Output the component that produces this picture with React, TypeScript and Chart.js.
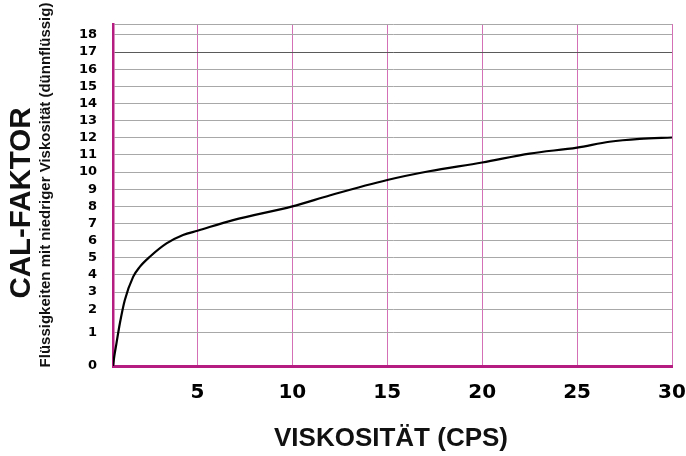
import React, { useEffect, useRef } from 'react';
import { Chart, LinearScale, registerables } from 'chart.js';

// ---- data ----
const viscosity = [0.55, 0.62, 0.73, 0.91, 1.17, 1.61, 1.96, 2.49, 3.37, 4.24, 5, 6.88, 10, 12, 15, 17.2, 20, 22.5, 25, 26.7, 28.3, 30];
const calFactor = [0, 0.3, 0.67, 1.39, 2.53, 3.89, 4.47, 5.06, 5.84, 6.33, 6.58, 7.2, 8.0, 8.65, 9.54, 10.05, 10.56, 11.08, 11.43, 11.77, 11.94, 12.02];
const yTicks = [0, 1, 2, 3, 4, 5, 6, 7, 8, 9, 10, 11, 12, 13, 14, 15, 16, 17, 18];
const xTicks = [5, 10, 15, 20, 25, 30];
const xMin = 0.55;
const xMax = 30;
const yMax = 18.64;

const yTitle = 'CAL-FAKTOR';
const ySubTitle = 'Flüssigkeiten mit niedriger Viskosität (dünnflüssig)';
const xTitle = 'VISKOSITÄT (CPS)';

// piecewise axis (the printed scale is stretched below 2)
const knotVal = [0, 1, 2, yMax];
const knotPos = [-1.31, 0.64, 2, yMax];

function fwd(v: number): number {
  if (v <= knotVal[0]) return knotPos[0] + (v - knotVal[0]) * (knotPos[1] - knotPos[0]) / (knotVal[1] - knotVal[0]);
  for (let i = 0; i < knotVal.length - 1; i++) {
    if (v <= knotVal[i + 1]) {
      const t = (v - knotVal[i]) / (knotVal[i + 1] - knotVal[i]);
      return knotPos[i] + t * (knotPos[i + 1] - knotPos[i]);
    }
  }
  const n = knotVal.length - 1;
  return knotPos[n] + (v - knotVal[n]);
}
function inv(p: number): number {
  for (let i = 0; i < knotPos.length - 1; i++) {
    if (p <= knotPos[i + 1]) {
      const t = (p - knotPos[i]) / (knotPos[i + 1] - knotPos[i]);
      return knotVal[i] + t * (knotVal[i + 1] - knotVal[i]);
    }
  }
  const n = knotPos.length - 1;
  return knotVal[n] + (p - knotPos[n]);
}

class PiecewiseScale extends LinearScale {
  static id = 'piecewise';
  static defaults = (LinearScale as any).defaults;
  getPixelForValue(value: number) {
    const a = fwd((this as any).min);
    const b = fwd((this as any).max);
    return this.getPixelForDecimal((fwd(value) - a) / (b - a));
  }
  getValueForPixel(pixel: number) {
    const a = fwd((this as any).min);
    const b = fwd((this as any).max);
    return inv(a + this.getDecimalForPixel(pixel) * (b - a));
  }
}

Chart.register(...registerables, PiecewiseScale as any);

const MAGENTA = '#b61d80';
const PINK = '#d470b6';

const titlesPlugin = {
  id: 'titles',
  afterDraw(chart: any) {
    const ctx = chart.ctx;
    ctx.save();
    ctx.fillStyle = '#111';
    ctx.textAlign = 'center';
    ctx.textBaseline = 'middle';
    ctx.font = 'bold 26px "Liberation Sans", Arial, sans-serif';
    ctx.fillText(xTitle, 391, 439);

    ctx.translate(22, 203);
    ctx.rotate(-Math.PI / 2);
    ctx.font = 'bold 29.5px "Liberation Sans", Arial, sans-serif';
    ctx.fillText(yTitle, 0, 0);
    ctx.restore();

    ctx.save();
    ctx.fillStyle = '#111';
    ctx.textAlign = 'center';
    ctx.textBaseline = 'middle';
    ctx.translate(46, 185);
    ctx.rotate(-Math.PI / 2);
    ctx.font = 'bold 15px "Liberation Sans", Arial, sans-serif';
    ctx.fillText(ySubTitle, 0, 0);
    ctx.restore();
  },
};

export default function App() {
  const ref = useRef<HTMLCanvasElement | null>(null);
  useEffect(() => {
    document.body.style.margin = '0';
    const canvas = ref.current!;
    const chart = new Chart(canvas, {
      type: 'line',
      data: {
        datasets: [
          {
            data: viscosity.map((x, i) => ({ x, y: calFactor[i] })),
            borderColor: '#000',
            borderWidth: 2.2,
            pointRadius: 0,
            cubicInterpolationMode: 'monotone',
            fill: false,
          },
        ],
      },
      options: {
        animation: false,
        responsive: false,
        devicePixelRatio: 1,
        layout: { padding: { left: 0, right: 14, top: 24, bottom: 0 } },
        plugins: { legend: { display: false }, tooltip: { enabled: false } },
        scales: {
          x: {
            type: 'linear',
            min: xMin,
            max: xMax,
            afterBuildTicks: (s: any) => {
              s.ticks = xTicks.map((v) => ({ value: v }));
            },
            afterFit: (s: any) => {
              s.height = 90;
              s.paddingLeft = 0;
              s.paddingRight = 0;
            },
            grid: { color: PINK, lineWidth: 1, drawTicks: false },
            border: { color: MAGENTA, width: 3 },
            ticks: {
              padding: 15,
              color: '#000',
              maxRotation: 0,
              font: { family: '"DejaVu Sans"', weight: 'bold', size: 20 },
              callback: (v: any) => String(v),
            },
          },
          y: {
            type: 'piecewise' as any,
            min: 0,
            max: yMax,
            afterBuildTicks: (s: any) => {
              s.ticks = [...yTicks, yMax].map((v) => ({ value: v }));
            },
            afterFit: (s: any) => {
              s.width = 113;
              s.paddingTop = 0;
              s.paddingBottom = 0;
            },
            grid: {
              drawTicks: false,
              lineWidth: 1,
              color: (c: any) => {
                const v = c.tick ? c.tick.value : null;
                if (v === 0) return 'rgba(0,0,0,0)';
                if (v === 17) return '#5a5a5a';
                return '#a8a8a8';
              },
            },
            border: { color: MAGENTA, width: 2.5 },
            ticks: {
              padding: 16,
              color: '#000',
              autoSkip: false,
              font: { family: '"DejaVu Sans"', weight: 'bold', size: 13 },
              callback: (v: any) => (v > 18 ? '' : String(v)),
            },
          },
        },
      } as any,
      plugins: [titlesPlugin],
    });
    return () => chart.destroy();
  }, []);
  return (
    <div style={{ position: 'absolute', left: 0, top: 0, width: 686, height: 456, background: '#fff' }}>
      <canvas ref={ref} width={686} height={456} style={{ display: 'block', width: 686, height: 456 }} />
    </div>
  );
}
